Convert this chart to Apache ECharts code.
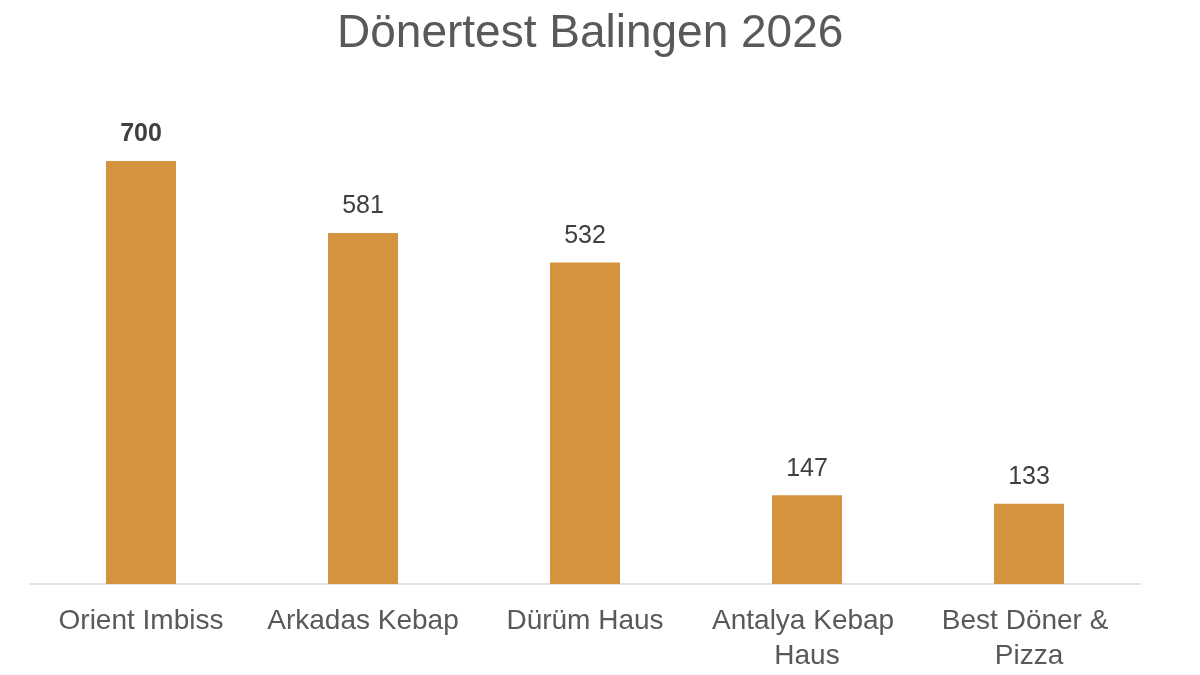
<!DOCTYPE html>
<html>
<head>
<meta charset="utf-8">
<script src="https://cdn.jsdelivr.net/npm/echarts@6/dist/echarts.min.js"></script>
<style>html,body{margin:0;padding:0;background:#fff}#c{width:1200px;height:675px}</style>
</head>
<body>
<div id="c"></div>
<script>
const titleText = 'Dönertest Balingen 2026';
const categories = ['Orient Imbiss', 'Arkadas Kebap', 'Dürüm Haus', 'Antalya Kebap Haus', 'Best Döner & Pizza'];
const values = [700, 581, 532, 147, 133];

const chart = echarts.init(document.getElementById('c'));
chart.setOption({
  animation: false,
  backgroundColor: '#ffffff',
  title: {
    text: titleText,
    left: 332,
    top: 6,
    textStyle: { fontFamily: 'Liberation Sans', fontSize: 46, fontWeight: 'normal', color: '#595959' }
  },
  grid: { left: 30, right: 60, top: 161, bottom: 91, containLabel: false },
  xAxis: {
    type: 'category',
    data: categories,
    axisLine: { lineStyle: { color: '#d9d9d9', width: 1.5 } },
    axisTick: { show: false },
    axisLabel: {
      interval: 0,
      fontFamily: 'Liberation Sans',
      fontSize: 28,
      color: '#595959',
      margin: 20,
      lineHeight: 35,
      width: 215,
      overflow: 'break'
    }
  },
  yAxis: {
    type: 'value',
    min: 0,
    max: 700,
    show: false,
    splitLine: { show: false }
  },
  series: [{
    type: 'bar',
    data: values.map((v, i) => i === 0 ? { value: v, label: { fontWeight: 'bold', color: '#404040' } } : v),
    barWidth: 70,
    itemStyle: { color: '#D5933F' },
    label: {
      show: true,
      position: 'top',
      distance: 14,
      fontFamily: 'Liberation Sans',
      fontSize: 25,
      color: '#404040'
    }
  }]
});
</script>
</body>
</html>
